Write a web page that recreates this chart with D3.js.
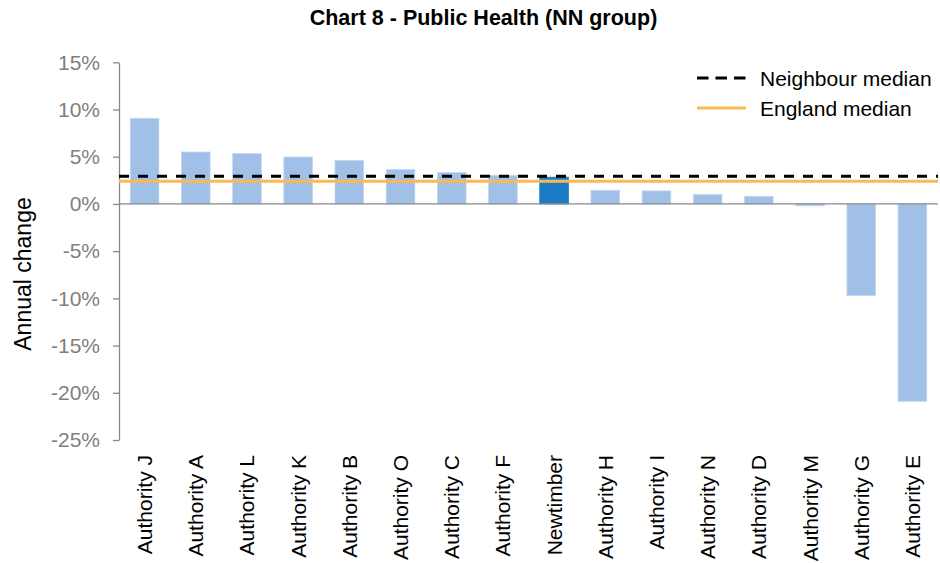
<!DOCTYPE html>
<html><head><meta charset="utf-8">
<script src="https://cdn.jsdelivr.net/npm/d3@7"></script>
<style>body{margin:0;background:#fff}svg{display:block}text{font-family:"Liberation Sans",Arial,sans-serif}</style>
</head><body><svg id="c" width="940" height="563"></svg>
<script>
const categories = ["Authority J","Authority A","Authority L","Authority K","Authority B","Authority O","Authority C","Authority F","Newtimber","Authority H","Authority I","Authority N","Authority D","Authority M","Authority G","Authority E"];
const values = [9.07, 5.5, 5.33, 4.97, 4.59, 3.64, 3.32, 3.04, 2.83, 1.45, 1.38, 0.99, 0.81, -0.2, -9.7, -20.9];
const highlight = "Newtimber";
const neighbourMedian = 2.93;
const englandMedian = 2.4;
const yTicks = [15, 10, 5, 0, -5, -10, -15, -20, -25];

(function () {
const svg = d3.select("#c");
const pL = 119, pR = 938, pT = 62.3, pB = 440;
const x = d3.scaleBand().domain(categories).range([pL, pR]).paddingInner(0.44).paddingOuter(0.22);
const y = d3.scaleLinear().domain([-25, 15]).range([pB, pT]);

// title
svg.append("text").attr("x", 483.5).attr("y", 25).attr("text-anchor", "middle")
  .attr("font-weight", "bold").attr("font-size", 21.5).attr("fill", "#000")
  .text("Chart 8 - Public Health (NN group)");

// bars
svg.append("g").selectAll("rect").data(categories).join("rect")
  .attr("x", d => x(d)).attr("width", x.bandwidth())
  .attr("y", (d, i) => y(Math.max(0, values[i])))
  .attr("height", (d, i) => Math.abs(y(values[i]) - y(0)))
  .attr("fill", d => d === highlight ? "#1b7cc4" : "#a1c0e8")
  .attr("stroke", d => d === highlight ? "#1b7cc4" : "#c3d7f1").attr("stroke-width", 0.8);

// y axis
const yAxis = d3.axisLeft(y).tickValues(yTicks).tickFormat(d => d + "%").tickSize(6).tickSizeOuter(0);
const gy = svg.append("g").attr("transform", `translate(${pL},0)`).call(yAxis);
gy.select(".domain").attr("stroke", "#888").attr("stroke-width", 1.3);
gy.selectAll(".tick line").attr("stroke", "#888").attr("stroke-width", 1.3);
gy.selectAll(".tick text").attr("font-size", 21).attr("fill", "#7f7f7f").attr("x", -19).attr("font-family", '"Liberation Sans",Arial,sans-serif');

// zero line
svg.append("line").attr("x1", pL).attr("x2", pR).attr("y1", y(0)).attr("y2", y(0))
  .attr("stroke", "#888").attr("stroke-width", 1.3);

// x labels
const gx = svg.append("g");
gx.selectAll("text").data(categories).join("text")
  .attr("transform", d => `translate(${x(d) + x.bandwidth() / 2 + 7.5},455) rotate(-90)`)
  .attr("text-anchor", "end").attr("font-size", 21).attr("fill", "#000").text(d => d);

// median lines
svg.append("line").attr("x1", pL).attr("x2", pR).attr("y1", y(englandMedian)).attr("y2", y(englandMedian))
  .attr("stroke", "#fbb954").attr("stroke-width", 3);
svg.append("line").attr("x1", pL).attr("x2", pR).attr("y1", y(neighbourMedian)).attr("y2", y(neighbourMedian))
  .attr("stroke", "#000").attr("stroke-width", 3).attr("stroke-dasharray", "10,9");

// y title
svg.append("text").attr("transform", "translate(31,274) rotate(-90)").attr("text-anchor", "middle")
  .attr("font-size", 23).attr("fill", "#000").text("Annual change");

// legend
const lg = svg.append("g");
lg.append("line").attr("x1", 697).attr("x2", 746).attr("y1", 78).attr("y2", 78)
  .attr("stroke", "#000").attr("stroke-width", 3).attr("stroke-dasharray", "11.5,7");
lg.append("text").attr("x", 760).attr("y", 85.5).attr("font-size", 21).text("Neighbour median");
lg.append("line").attr("x1", 697).attr("x2", 746).attr("y1", 108).attr("y2", 108)
  .attr("stroke", "#fbb954").attr("stroke-width", 3);
lg.append("text").attr("x", 760).attr("y", 115.5).attr("font-size", 21).text("England median");
})();
</script></body></html>
